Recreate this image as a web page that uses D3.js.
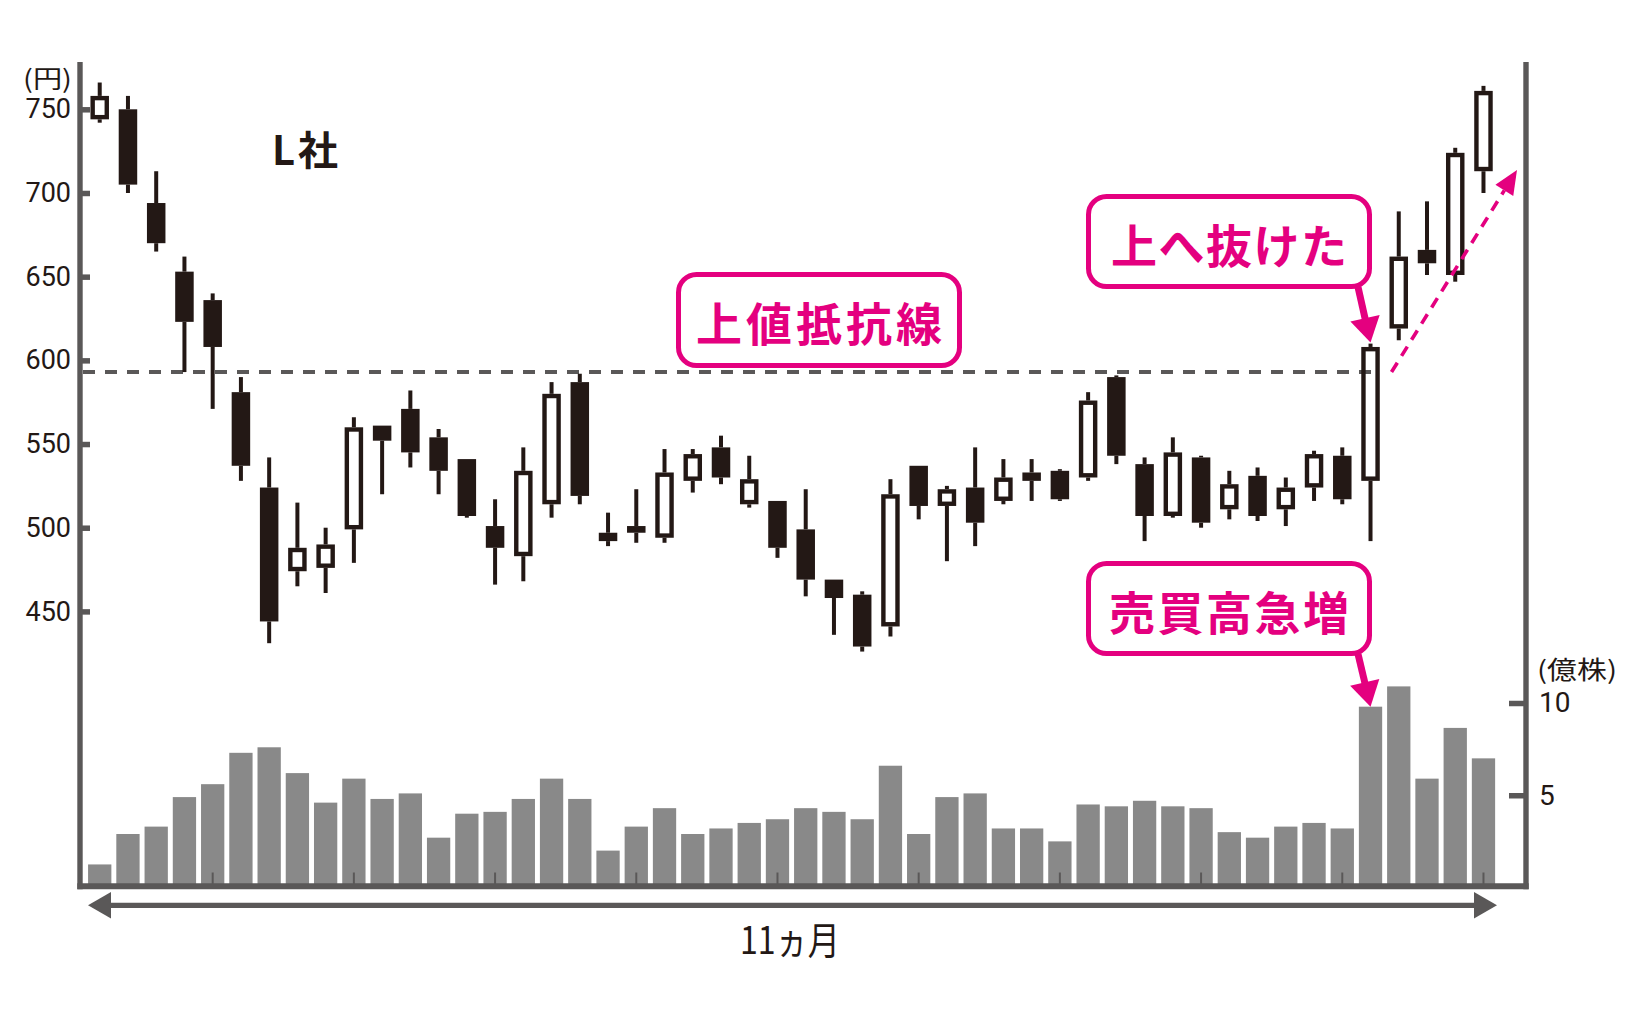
<!DOCTYPE html>
<html><head><meta charset="utf-8">
<script src="https://cdn.jsdelivr.net/npm/d3@7"></script>
<style>body{margin:0;background:#fff}</style>
</head><body>
<svg id="c" width="1640" height="1028"></svg>
<script>
// ---- data ----
const days   = d3.range(1, 51);
const open   = [744,750,694,653,636,581,524,474,476,499, 561,571,554,541,501,483,514,587,497,501,
                494,528,548,514,516,499,469,460,441,537, 513,524,516,528,534,530,590,538,507,542,
                511,531,511,524,543,528,619,666,651,713];
const high   = [766,758,713,662,640,590,542,515,500,566, 561,582,559,541,517,548,587,592,509,523,
                547,547,555,543,516,523,469,462,529,537, 525,548,541,541,535,581,591,542,554,543,
                534,536,530,546,548,610,689,695,727,764];
const low    = [742,700,665,593,571,528,431,465,461,479, 520,536,520,506,466,468,506,514,489,491,
                491,521,526,512,482,459,436,426,435,505, 480,489,514,516,516,528,538,492,506,500,
                505,504,501,516,514,492,612,651,647,700];
const close  = [758,705,670,623,608,537,444,488,490,560, 552,545,534,507,488,534,580,519,492,497,
                533,544,530,529,488,469,458,429,520,513, 523,503,530,533,517,576,543,507,545,503,
                526,507,524,544,517,608,662,658,724,761];
const volume = [1.25,2.9,3.3,4.9,5.6,7.3,7.6,6.2,4.6,5.9, 4.8,5.1,2.7,4.0,4.1,4.8,5.9,4.8,2.0,3.3,
                4.3,2.9,3.2,3.5,3.7,4.3,4.1,3.7,6.6,2.9, 4.9,5.1,3.2,3.2,2.5,4.5,4.4,4.7,4.4,4.3,
                3.0,2.7,3.3,3.5,3.2,9.8,10.9,5.9,8.65,7.0];
const priceTicks  = [450,500,550,600,650,700,750];
const volumeTicks = [5,10];
const resistance  = 593;
const labels = {company:"L社", yen:"(円)", shares:"(億株)", period:"11ヵ月",
                resist:"上値抵抗線", breakout:"上へ抜けた", surge:"売買高急増"};

// ---- style ----
const INK = "#231815", AXIS = "#5a5858", BAR = "#898989", MAG = "#e4007f";
const JP = "'Noto Sans CJK JP','Noto Sans',sans-serif";
const NUM = "Roboto,'Liberation Sans',sans-serif";

const svg = d3.select("#c");

// ---- scales ----
const x  = d3.scaleBand().domain(days).range([85.6, 1497.6]).padding(0);
const xc = d => x(d) + x.bandwidth()/2;
const yP = d3.scaleLinear().domain([450, 750]).range([611.4, 109.3]);
const yV = d3.scaleLinear().domain([0, 10]).range([887.5, 703]);

const data = days.map((d,i)=>({d, o:open[i], h:high[i], l:low[i], c:close[i], v:volume[i]}));

// ---- volume bars ----
const barW = x.step()*0.825;
svg.append("g").selectAll("rect").data(data).join("rect")
  .attr("x", d=>xc(d.d)-barW/2).attr("width", barW)
  .attr("y", d=>yV(d.v)).attr("height", d=>yV(0)-yV(d.v))
  .attr("fill", BAR);

// month ticks (every 5 sessions)
svg.append("g").selectAll("line").data(days.filter(d=>d%5===0)).join("line")
  .attr("x1", d=>xc(d)).attr("x2", d=>xc(d))
  .attr("y1", yV(0)-15).attr("y2", yV(0)-3)
  .attr("stroke", AXIS).attr("stroke-width", 2);

// ---- frame ----
const frameTop = 62, leftX = 80, rightX = 1526, bottomY = 886.3;
svg.append("line").attr("x1",leftX).attr("x2",leftX).attr("y1",frameTop).attr("y2",bottomY+3)
  .attr("stroke",AXIS).attr("stroke-width",5.4);
svg.append("line").attr("x1",rightX).attr("x2",rightX).attr("y1",frameTop).attr("y2",bottomY+3)
  .attr("stroke",AXIS).attr("stroke-width",5.4);
svg.append("line").attr("x1",leftX-2.7).attr("x2",rightX+2.7).attr("y1",bottomY).attr("y2",bottomY)
  .attr("stroke",AXIS).attr("stroke-width",6);

// left price axis
const gL = svg.append("g").attr("transform",`translate(${leftX},0)`)
  .call(d3.axisLeft(yP).tickValues(priceTicks).tickSizeInner(-10).tickSizeOuter(0).tickPadding(9));
gL.select(".domain").remove();
gL.selectAll(".tick line").attr("stroke",AXIS).attr("stroke-width",5.5);
gL.selectAll(".tick text").attr("fill",INK).attr("font-size",27).attr("font-family",NUM).attr("font-weight",400);

// right volume axis
const gR = svg.append("g").attr("transform",`translate(${rightX},0)`)
  .call(d3.axisRight(yV).tickValues(volumeTicks).tickSizeInner(-17).tickSizeOuter(0).tickPadding(13));
gR.select(".domain").remove();
gR.selectAll(".tick line").attr("stroke",AXIS).attr("stroke-width",5.5);
gR.selectAll(".tick text").attr("fill",INK).attr("font-size",28).attr("font-family",NUM).attr("font-weight",400);

// unit labels
svg.append("text").attr("x",23).attr("y",88).attr("font-size",25).attr("font-family",JP)
  .attr("fill",INK).attr("textLength",49).attr("lengthAdjust","spacingAndGlyphs").text(labels.yen);
svg.append("text").attr("x",1537).attr("y",679).attr("font-size",25).attr("font-family",JP)
  .attr("fill",INK).attr("textLength",80).attr("lengthAdjust","spacingAndGlyphs").text(labels.shares);

// resistance line
svg.append("line").attr("x1",leftX+3).attr("x2",xc(46)+10)
  .attr("y1",yP(resistance)).attr("y2",yP(resistance))
  .attr("stroke",AXIS).attr("stroke-width",4).attr("stroke-dasharray","12 10");

// ---- candles ----
const bodyW = 18.5, sw = 4.4;
const cg = svg.append("g");
data.forEach(d=>{
  const top = Math.max(d.o,d.c), bot = Math.min(d.o,d.c), cx = xc(d.d);
  cg.append("line").attr("x1",cx).attr("x2",cx).attr("y1",yP(d.h)).attr("y2",yP(top))
    .attr("stroke",INK).attr("stroke-width",4);
  cg.append("line").attr("x1",cx).attr("x2",cx).attr("y1",yP(bot)).attr("y2",yP(d.l))
    .attr("stroke",INK).attr("stroke-width",4);
  if (d.c >= d.o) {
    const h = yP(bot)-yP(top);
    cg.append("rect").attr("x",cx-bodyW/2+sw/2).attr("width",bodyW-sw)
      .attr("y",yP(top)+sw/2).attr("height",Math.max(0,h-sw))
      .attr("fill","none").attr("stroke",INK).attr("stroke-width",sw);
  } else {
    cg.append("rect").attr("x",cx-bodyW/2).attr("width",bodyW)
      .attr("y",yP(top)).attr("height",yP(bot)-yP(top)).attr("fill",INK);
  }
});

// ---- company label ----
svg.append("text").attr("x",272).attr("y",165).attr("font-size",40).attr("font-weight",700)
  .attr("letter-spacing",3).attr("font-family",JP).attr("fill",INK).text(labels.company);

// ---- period arrow ----
const arrY = 905.3;
svg.append("line").attr("x1",105).attr("x2",1480).attr("y1",arrY).attr("y2",arrY)
  .attr("stroke",AXIS).attr("stroke-width",5.3);
svg.append("polygon").attr("points",`88,${arrY} 111,${arrY-13.3} 111,${arrY+13.3}`).attr("fill",AXIS);
svg.append("polygon").attr("points",`1497,${arrY} 1474,${arrY-13.3} 1474,${arrY+13.3}`).attr("fill",AXIS);
svg.append("text").attr("x",740).attr("y",954).attr("font-size",38).attr("font-family",JP)
  .attr("fill",INK).attr("textLength",100).attr("lengthAdjust","spacingAndGlyphs").text(labels.period);

// ---- annotations ----
function callout(x0,y0,w,h,text,ls){
  svg.append("rect").attr("x",x0+2.5).attr("y",y0+2.5).attr("width",w-5).attr("height",h-5)
    .attr("rx",18).attr("ry",18).attr("fill","#fff").attr("stroke",MAG).attr("stroke-width",5);
  svg.append("text").attr("x",x0+w/2+ls/2).attr("y",y0+h/2+1).attr("text-anchor","middle")
    .attr("dominant-baseline","central").attr("font-size",46).attr("font-weight",700)
    .attr("letter-spacing",ls).attr("font-family",JP).attr("fill",MAG).text(text);
}
function blockArrow(x1,y1,x2,y2){
  const dx=x2-x1, dy=y2-y1, L=Math.hypot(dx,dy), ux=dx/L, uy=dy/L, px=-uy, py=ux;
  const hl=25, hw=15, bx=x2-ux*hl, by=y2-uy*hl;
  svg.append("line").attr("x1",x1).attr("y1",y1).attr("x2",bx+ux*2).attr("y2",by+uy*2)
    .attr("stroke",MAG).attr("stroke-width",7);
  svg.append("polygon").attr("points",
    `${x2},${y2} ${bx+px*hw},${by+py*hw} ${bx-px*hw},${by-py*hw}`).attr("fill",MAG);
}
callout(676,272,286,96,labels.resist,4);
callout(1086,194,286,95,labels.breakout,1.5);
callout(1086,561,286,95,labels.surge,2.5);
blockArrow(1358,287,xc(46),yP(high[45])-1);
blockArrow(1358,654,xc(46),yV(volume[45]));

// dashed breakout arrow
(function(){
  const x1=xc(46)+21, y1=yP(resistance), x2=1517, y2=170;
  const dx=x2-x1, dy=y2-y1, L=Math.hypot(dx,dy), ux=dx/L, uy=dy/L, px=-uy, py=ux;
  const hl=24, hw=10.5, bx=x2-ux*hl, by=y2-uy*hl;
  svg.append("line").attr("x1",x1).attr("y1",y1).attr("x2",bx).attr("y2",by)
    .attr("stroke",MAG).attr("stroke-width",3.6).attr("stroke-dasharray","11 8");
  svg.append("polygon").attr("points",
    `${x2},${y2} ${bx+px*hw},${by+py*hw} ${bx-px*hw},${by-py*hw}`).attr("fill",MAG);
})();
</script>
</body></html>
